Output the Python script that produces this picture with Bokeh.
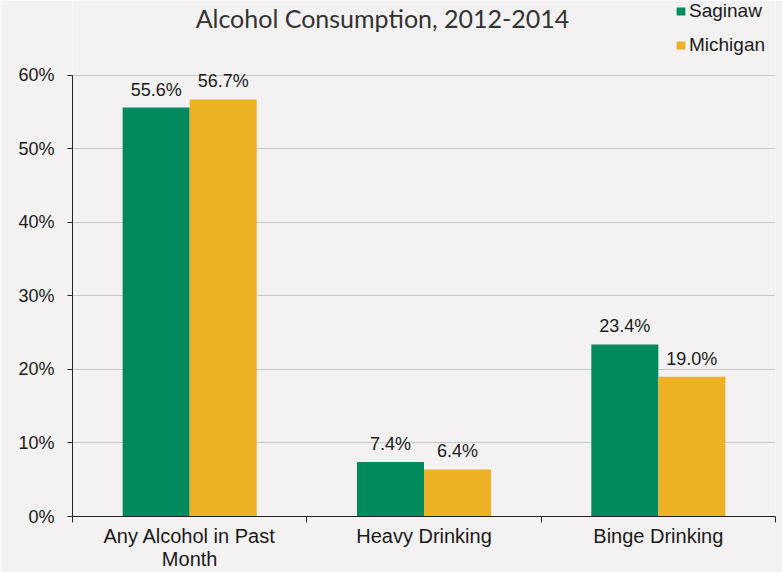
from bokeh.plotting import figure
from bokeh.models import (ColumnDataSource, FixedTicker, PrintfTickFormatter, Legend,
                          LegendItem, LabelSet, Label, Range1d)
from bokeh.core.properties import value
from bokeh.embed import file_html
from bokeh.resources import INLINE

# ---- data ----
categories = ["Any Alcohol in Past\nMonth", "Heavy Drinking", "Binge Drinking"]
series = ["Saginaw", "Michigan"]
saginaw = [55.6, 7.4, 23.4]
michigan = [56.7, 6.4, 19.0]
y_ticks = [0, 10, 20, 30, 40, 50, 60]
title_text = "Alcohol Consumption, 2012-2014"

# ---- style / layout ----
colors = ["#008A5E", "#ECB125"]
bar_w = 0.286
bg = "#F3F1F1"
frame_px = 518      # frame spans from the top of the canvas down to the x axis
plot_px = 443       # pixels between 0% and the top tick
y_end = y_ticks[-1] * frame_px / plot_px   # headroom for title and legend inside the frame

n = len(categories)
centers = [i + 0.5 for i in range(n)]

p = figure(width=782, height=572, output_backend="svg", toolbar_location=None,
           x_range=Range1d(0, n), y_range=Range1d(y_ticks[0], y_end),
           min_border_left=72, min_border_right=7, min_border_top=0, min_border_bottom=54,
           background_fill_color=bg, border_fill_color=bg, outline_line_color=None)

renderers = []
for k, (name, vals) in enumerate(zip(series, [saginaw, michigan])):
    off = (k - 0.5) * bar_w
    src = ColumnDataSource(dict(x=[c + off for c in centers], top=vals,
                                lbl=[f"{v:.1f}%" for v in vals]))
    r = p.vbar(x="x", top="top", bottom=0, width=bar_w, source=src,
               fill_color=colors[k], line_color=None)
    renderers.append(r)
    p.add_layout(LabelSet(x="x", y="top", text="lbl", source=src, text_align="center",
                          text_baseline="alphabetic", y_offset=12,
                          text_font=value("Liberation Sans"),
                          text_font_size=value("18px"), text_color="#1a1a1a"))

# x axis: labels at category centers, tick marks at boundaries
xa = p.xaxis[0]
xa.ticker = FixedTicker(ticks=centers, minor_ticks=list(range(n + 1)))
xa.major_label_overrides = {c: lab for c, lab in zip(centers, categories)}
xa.major_tick_line_color = None
xa.major_tick_in = 0
xa.major_tick_out = 0
xa.minor_tick_in = 0
xa.minor_tick_out = 6
xa.minor_tick_line_color = "#222222"
xa.axis_line_color = "#222222"
xa.major_label_text_font = "Liberation Sans"
xa.major_label_text_font_size = "20px"
xa.major_label_text_line_height = 1.05
xa.major_label_text_color = "#1a1a1a"
xa.major_label_standoff = 2

ya = p.yaxis[0]
ya.ticker = FixedTicker(ticks=y_ticks)
ya.bounds = (y_ticks[0], y_ticks[-1])
ya.formatter = PrintfTickFormatter(format="%d%%")
ya.major_tick_in = 0
ya.major_tick_out = 5
ya.minor_tick_line_color = None
ya.axis_line_color = "#222222"
ya.major_tick_line_color = "#222222"
ya.major_label_text_font = "Liberation Sans"
ya.major_label_text_font_size = "18px"
ya.major_label_text_color = "#1a1a1a"
ya.major_label_standoff = 13

p.xgrid.grid_line_color = None
p.ygrid.grid_line_color = "#C8C8C8"
p.ygrid.grid_line_width = 1

# title as a label near the top of the canvas (screen units from frame bottom-left)
p.add_layout(Label(x=310, y=frame_px - 19, x_units="screen", y_units="screen", text=title_text,
                   text_align="center", text_baseline="alphabetic",
                   text_font="Lato", text_font_size="25px", text_color="#333333"))

legend = Legend(items=[LegendItem(label=s, renderers=[r]) for s, r in zip(series, renderers)],
                location=(603, frame_px - 58), orientation="vertical",
                glyph_width=11, glyph_height=10, label_height=20, spacing=12,
                label_standoff=3, padding=0, margin=0,
                label_text_font="Liberation Sans", label_text_font_size="19px",
                label_text_color="#1a1a1a",
                background_fill_alpha=0, border_line_color=None)
p.add_layout(legend, "center")

open("out.html", "w").write(file_html(p, INLINE))
